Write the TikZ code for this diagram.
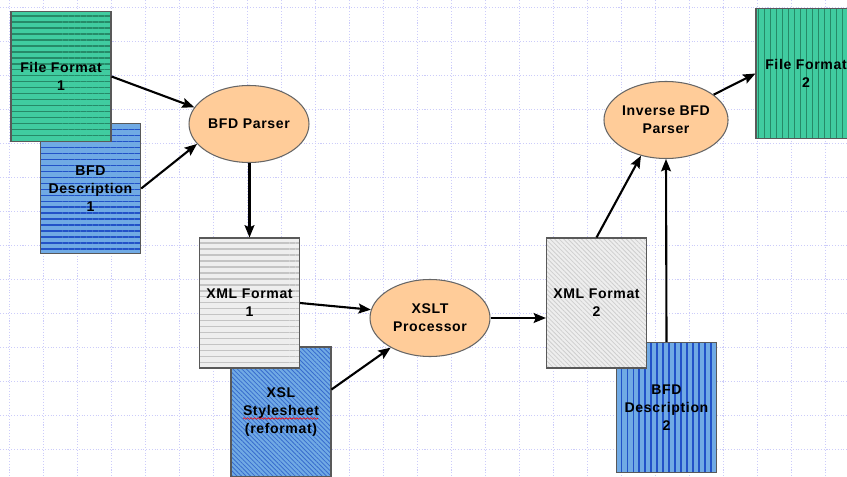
\documentclass[tikz,border=0pt]{standalone}
\usepackage{fontspec}
\setmainfont{Liberation Sans}[LetterSpace=4.5]
\usetikzlibrary{arrows.meta, positioning, shapes.geometric, patterns.meta, decorations.pathmorphing}

\definecolor{sheetgreen}{RGB}{64,204,160}
\definecolor{stripegreen}{RGB}{38,138,104}
\definecolor{sheetblue}{RGB}{112,170,228}
\definecolor{stripeblue}{RGB}{34,82,200}
\definecolor{hatchblue}{RGB}{56,108,206}
\definecolor{sheetgrey}{RGB}{238,238,238}
\definecolor{stripegrey}{RGB}{196,196,196}
\definecolor{hatchgrey}{RGB}{206,206,206}
\definecolor{parserfill}{RGB}{255,204,153}
\definecolor{gridblue}{RGB}{204,204,250}

\begin{document}
\begin{tikzpicture}[
    x=0.02cm, y=-0.02cm,
    font=\fontsize{8}{10.4}\selectfont\bfseries,
    doc/.style={
        rectangle,
        draw=black!65,
        line width=0.6pt,
        minimum width=2cm,
        minimum height=2.6cm,
        inner sep=0pt,
        align=center
    },
    striped/.style n args={3}{
        preaction={fill=#1},
        pattern={Lines[angle=#3, distance=3.4pt, line width=0.8pt]},
        pattern color=#2
    },
    hatched/.style 2 args={
        preaction={fill=#1},
        pattern={Lines[angle=-45, distance=1.8pt, line width=0.45pt]},
        pattern color=#2
    },
    process/.style={
        ellipse,
        draw=black!60,
        line width=0.6pt,
        fill=parserfill,
        minimum width=2.4cm,
        minimum height=1.54cm,
        inner sep=0pt,
        align=center
    },
    flow/.style={-{Stealth[length=7pt, width=5.6pt, inset=1.2pt]}, line width=1.2pt},
    gridline/.style={gridblue, densely dotted, line width=0.6pt},
    wave/.style={red, line width=0.35pt, decorate,
        decoration={snake, amplitude=0.45pt, segment length=2pt}}
]

\useasboundingbox (0,0) rectangle (847,476);
\clip (0,0) rectangle (847,476);
\fill[white] (0,0) rectangle (847,476);

% background grid
\foreach \gx in {0,...,24}
    \draw[gridline] (9.3+34*\gx,0) -- (9.3+34*\gx,476);
\foreach \gy in {0,...,13}
    \draw[gridline] (0,7.5+34*\gy) -- (847,7.5+34*\gy);

% input side
\node[doc, striped={sheetblue}{stripeblue}{0}] (desc1) at (90.5,188.5) {BFD\\Description\\1};
\node[doc, striped={sheetgreen}{stripegreen}{0}] (ff1) at (61,76.5) {File Format\\1};
\node[process] (parser) at (249,124) {BFD Parser};

% transformation
\node[doc, hatched={sheetblue}{hatchblue}] (xsl) at (281,412) {XSL\\Stylesheet\\(reformat)};
\node[doc, striped={sheetgrey}{stripegrey}{0}] (xml1) at (249.5,303) {XML Format\\1};
\node[process] (xslt) at (430,318) {XSLT\\Processor};

% output side
\node[doc, striped={sheetblue}{stripeblue}{90}] (desc2) at (666.5,407.5) {BFD\\Description\\2};
\node[doc, hatched={sheetgrey}{hatchgrey}] (xml2) at (596.5,303) {XML Format\\2};
\node[process] (inv) at (666,120) {Inverse BFD\\Parser};
\node[doc, striped={sheetgreen}{stripegreen}{90}] (ff2) at (806,73.5) {File Format\\2};

% spell-check mark
\draw[wave] ([shift={(-38,6.5)}]xsl.center) -- ([shift={(37,6.5)}]xsl.center);

\draw[flow] (ff1.east) -- (parser.163);
\draw[flow] (desc1.east) -- (parser.201);
\draw[flow] (parser.south -| xml1.north) -- (xml1.north);
\draw[flow] (xml1.east) -- (xslt.172);
\draw[flow] (xsl.24) -- (xslt.217);
\draw[flow] (xslt.east) -- (xslt.east -| xml2.west);
\draw[flow] (xml2.north) -- (inv.235);
\draw[flow] (desc2.north) -- (inv.south);
\draw[flow] (inv.28) -- (ff2.west);

\end{tikzpicture}
\end{document}
